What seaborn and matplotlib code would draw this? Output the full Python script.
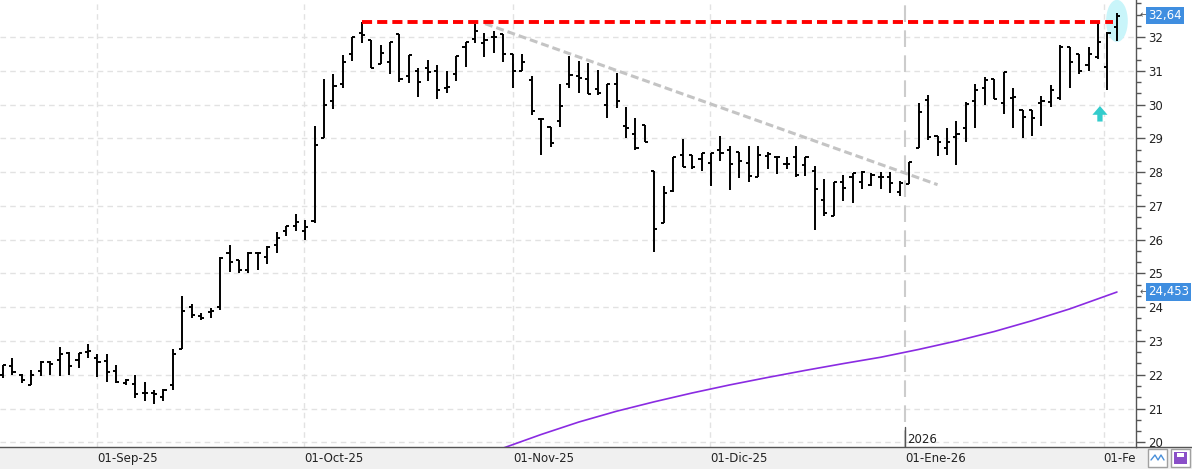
import numpy as np
import matplotlib
matplotlib.use("Agg")
import matplotlib.pyplot as plt
import matplotlib.transforms as mtransforms
from matplotlib.patches import Ellipse, Polygon, Rectangle
from matplotlib.lines import Line2D
import seaborn as sns

# daily OHLC bars, Aug-25 .. Feb-26
opens = [22.0, 22.27, 22.0, 21.7, 22.1, 22.38, 22.45, 22.65, 22.45, 22.68,
         22.5, 22.4, 22.1, 21.75, 21.72, 21.47, 21.45, 21.35, 21.7, 22.75,
         24.0, 23.73, 23.85, 24.0, 25.62, 25.4, 25.1, 25.6, 25.5, 25.85,
         26.25, 26.4, 26.27, 26.55, 29.02, 30.12, 30.62, 31.5, 32.12, 31.92,
         31.2, 31.25, 32.09, 30.86, 31.0, 31.08, 30.99, 30.5, 30.92, 31.7,
         31.94, 31.82, 32.0, 32.09, 31.5, 31.0, 30.74, 29.58, 29.33, 29.53,
         30.62, 30.86, 30.77, 30.47, 30.0, 30.62, 29.38, 29.13, 29.39, 28.04,
         26.5, 27.43, 28.5, 28.5, 28.4, 28.27, 28.67, 28.65, 28.6, 28.27,
         27.85, 28.49, 28.45, 28.24, 28.45, 28.22, 28.04, 27.18, 26.7, 27.72,
         27.85, 27.72, 27.62, 27.85, 27.85, 27.4, 27.64, 28.73, 30.14, 29.06,
         28.73, 29.04, 29.3, 30.11, 30.49, 30.76, 30.04, 30.21, 29.85, 29.85,
         30.04, 30.09, 30.19, 31.7, 31.51, 31.18, 31.41, 31.11, 32.3]
highs = [22.29, 22.5, 22.02, 22.15, 22.4, 22.4, 22.82, 22.68, 22.65, 22.9,
         22.6, 22.6, 22.3, 21.86, 22.0, 21.78, 21.55, 21.58, 22.75, 24.32,
         24.1, 23.83, 23.99, 25.5, 25.85, 25.4, 25.65, 25.63, 25.8, 26.22,
         26.42, 26.76, 26.59, 29.38, 30.77, 30.92, 31.48, 32.0, 32.45, 31.92,
         31.77, 31.87, 32.09, 31.48, 31.1, 31.32, 31.18, 31.0, 31.45, 31.87,
         32.38, 32.12, 32.17, 32.09, 31.5, 31.5, 30.86, 29.6, 29.33, 30.62,
         31.45, 31.29, 31.22, 31.04, 30.6, 30.94, 29.93, 29.6, 29.39, 28.04,
         27.58, 28.44, 28.99, 28.5, 28.57, 28.57, 29.06, 28.79, 28.6, 28.79,
         28.79, 28.59, 28.45, 28.45, 28.79, 28.45, 28.19, 27.79, 27.72, 27.92,
         27.97, 28.03, 27.97, 28.0, 28.0, 27.75, 28.31, 30.04, 30.29, 29.08,
         29.32, 29.52, 30.07, 30.61, 30.83, 30.76, 30.96, 30.49, 29.85, 29.85,
         30.26, 30.59, 31.77, 31.7, 31.51, 31.72, 32.41, 32.14, 32.71]
lows = [21.9, 22.0, 21.75, 21.7, 21.97, 22.0, 21.97, 22.0, 22.19, 22.5,
        21.94, 21.8, 21.75, 21.7, 21.32, 21.22, 21.13, 21.22, 21.55, 22.75,
        23.67, 23.63, 23.67, 23.92, 25.03, 25.0, 25.0, 25.1, 25.28, 25.62,
        26.1, 26.27, 26.0, 26.5, 29.02, 29.88, 30.48, 31.28, 31.82, 31.08,
        31.2, 30.9, 30.66, 30.64, 30.22, 30.69, 30.18, 30.35, 30.69, 31.13,
        31.82, 31.4, 31.53, 31.25, 30.49, 31.0, 29.68, 28.5, 28.75, 29.33,
        30.5, 30.35, 30.32, 30.29, 29.6, 29.9, 29.0, 28.65, 28.9, 25.64,
        26.5, 27.41, 28.15, 28.1, 28.04, 27.58, 28.32, 27.48, 27.84, 27.72,
        27.85, 28.1, 27.95, 28.09, 27.87, 27.89, 26.29, 26.71, 26.7, 27.15,
        27.1, 27.49, 27.6, 27.49, 27.37, 27.3, 27.64, 28.73, 28.96, 28.49,
        28.51, 28.2, 28.88, 29.3, 30.0, 30.16, 29.72, 29.3, 29.01, 29.06,
        29.38, 29.93, 30.14, 30.49, 30.9, 31.0, 31.36, 30.42, 31.88]
closes = [22.28, 22.08, 21.83, 22.0, 22.38, 22.33, 22.6, 22.26, 22.63, 22.7,
          22.38, 22.07, 21.8, 21.85, 21.42, 21.47, 21.43, 21.55, 22.6, 23.88,
          23.78, 23.67, 23.9, 25.45, 25.33, 25.1, 25.62, 25.62, 25.77, 26.05,
          26.4, 26.53, 26.37, 28.8, 29.98, 30.55, 31.26, 32.0, 32.07, 31.08,
          31.53, 31.87, 30.76, 31.48, 30.67, 30.97, 30.42, 30.52, 31.43, 31.87,
          32.19, 31.92, 32.0, 31.5, 31.01, 31.26, 29.82, 29.58, 28.87, 29.95,
          30.89, 30.79, 30.32, 30.35, 30.6, 30.12, 29.31, 28.72, 28.9, 26.32,
          27.37, 28.44, 28.16, 28.16, 28.57, 28.57, 28.57, 28.24, 28.32, 27.9,
          28.52, 28.55, 28.45, 28.24, 27.92, 28.45, 27.5, 26.8, 27.72, 27.53,
          27.97, 28.01, 27.92, 27.85, 27.67, 27.67, 28.29, 29.78, 29.04, 28.89,
          28.89, 29.13, 30.01, 30.44, 30.74, 30.16, 30.96, 30.24, 29.63, 29.6,
          30.12, 30.44, 31.7, 31.26, 31.0, 31.51, 31.87, 32.12, 32.64]

# 200-session moving average (purple)
ma_bar = [54, 58, 62, 66, 70, 74, 78, 82, 86, 90, 94, 98, 102, 106, 110, 114, 119]
ma_val = [19.83, 20.23, 20.6, 20.92, 21.2, 21.46, 21.7, 21.92, 22.13, 22.33,
          22.52, 22.75, 23.0, 23.28, 23.6, 23.95, 24.45]
ma_last = 24.453

# month ticks (position on the bar scale where each month begins)
month_pos = [11.0, 32.9, 55.0, 75.9, 96.6, 117.6]
month_labels = ["01-Sep-25", "01-Oct-25", "01-Nov-25", "01-Dic-25", "01-Ene-26", "01-Fe"]
year_pos = 96.6
year_label = "2026"

# drawn studies
resistance = 32.45
resistance_from, resistance_to = 39, 118.6
trend_start = (52.06, 32.4)
trend_end = (100.0, 27.63)
signal_bar, signal_tip = 117.2, 29.96

last_price = closes[-1]
W, H = 1192, 469

sns.set_style("white")
plt.rcParams["font.family"] = ["DejaVu Sans"]

fig = plt.figure(figsize=(W / 100, H / 100), dpi=100)
ax = fig.add_axes([0, 22 / H, 1136 / W, 447 / H])

idx = np.arange(1, len(closes) + 1)
ax.set_xlim(0.68, 121.02)
ax.set_ylim(19.86, 33.1)

# grid
ax.set_yticks(range(20, 33))
ax.set_yticks(np.arange(20, 33.2, 1 / 3), minor=True)
for v in range(20, 33):
    ax.axhline(v, color="#e2e2e2", lw=1, ls=(0, (4, 3)), zorder=0)
for p in month_pos:
    if p == year_pos:
        ax.axvline(p, color="#cccccc", lw=1.5, ls=(0, (8, 4)), zorder=0)
    else:
        ax.axvline(p, color="#e2e2e2", lw=1, ls=(0, (4, 3)), zorder=0)

# highlight of last bar
ax.add_patch(Ellipse((119, 32.48), 2.3, 1.25, fc="#c9f5fa", ec="none", zorder=1))

# moving average
sns.lineplot(x=ma_bar, y=ma_val, ax=ax, color="#8a2be2", lw=1.2, zorder=2)

# OHLC bars
ax.vlines(idx, lows, highs, color="black", lw=1.4, zorder=3)
ax.hlines(opens, idx - 0.33, idx, color="black", lw=1.4, zorder=3)
ax.hlines(closes, idx, idx + 0.33, color="black", lw=1.4, zorder=3)

# resistance and trend lines
ax.plot([resistance_from, resistance_to], [resistance, resistance], color="red",
        lw=2.8, ls=(0, (2.6, 1.3)), zorder=4)
ax.plot([trend_start[0], trend_end[0]], [trend_start[1], trend_end[1]], color="#c4c4c4",
        lw=2.2, ls=(0, (2.6, 1.3)), zorder=2)

# cyan buy arrow
hw, sw = 0.8, 0.28
ax.add_patch(Polygon([(signal_bar - hw, signal_tip - 0.26), (signal_bar, signal_tip),
                      (signal_bar + hw, signal_tip - 0.26), (signal_bar + sw, signal_tip - 0.26),
                      (signal_bar + sw, signal_tip - 0.46), (signal_bar - sw, signal_tip - 0.46),
                      (signal_bar - sw, signal_tip - 0.26)], closed=True,
                     fc="#33cccc", ec="none", zorder=4))

# axes styling
for s in ["left", "top"]:
    ax.spines[s].set_visible(False)
for s in ["right", "bottom"]:
    ax.spines[s].set_color("#555555")
    ax.spines[s].set_linewidth(1)
ax.yaxis.tick_right()
ax.tick_params(axis="y", which="major", direction="out", length=6.5, width=1,
               color="#555555", labelsize=8.5, pad=2, labelcolor="#222222")
ax.tick_params(axis="y", which="minor", direction="out", length=3.6, width=1, color="#555555")
ax.set_xticks(month_pos)
ax.set_xticklabels(month_labels)
ax.tick_params(axis="x", direction="out", length=6.5, width=1, color="#555555",
               labelsize=8.5, pad=-3.2, labelcolor="#222222")
for lab in ax.get_xticklabels():
    lab.set_horizontalalignment("left")
ax.set_xlabel("")
ax.set_ylabel("")

# year marker
ax.plot([year_pos, year_pos], [19.86, 20.45], color="#555555", lw=1, zorder=3)
ax.text(year_pos + 0.15, 19.9, year_label, fontsize=8.5, color="#222222", va="bottom", ha="left")

# last value boxes on the price scale
trans = mtransforms.blended_transform_factory(ax.transAxes, ax.transData)
for val, txt in [(last_price, f"{last_price:.2f}".replace(".", ",")),
                 (ma_last, f"{ma_last:.3f}".replace(".", ","))]:
    ax.text(1.0035, val, "←", transform=trans, fontsize=7, color="#555555",
            va="center", ha="left", clip_on=False)
    ax.text(1.0105, val, txt, transform=trans, fontsize=8.5, color="white", va="center",
            ha="left", clip_on=False,
            bbox=dict(boxstyle="square,pad=0.18", fc="#3f8ee0", ec="none"))

# bottom strip and buttons
fig.add_artist(Rectangle((0, 0), 1, 22 / H, transform=fig.transFigure,
                         fc="#f0f0f0", ec="none", zorder=-5))
fig.add_artist(Line2D([1136 / W, 1], [22 / H, 22 / H], transform=fig.transFigure,
                      color="#555555", lw=1))
fig.add_artist(Rectangle((1148 / W, 2 / H), 19 / W, 18 / H, transform=fig.transFigure,
                         fc="white", ec="#a0a0a0", lw=1))
fig.add_artist(Line2D(np.array([1151, 1155, 1158, 1161, 1164]) / W,
                      np.array([9, 14, 9, 14, 9]) / H, transform=fig.transFigure,
                      color="#4a90d9", lw=1))
fig.add_artist(Rectangle((1171 / W, 2 / H), 19 / W, 18 / H, transform=fig.transFigure,
                         fc="white", ec="#a0a0a0", lw=1))
fig.add_artist(Rectangle((1174 / W, 5 / H), 13 / W, 12 / H, transform=fig.transFigure,
                         fc="#8a4fc8", ec="none"))
fig.add_artist(Rectangle((1177 / W, 12 / H), 7 / W, 4 / H, transform=fig.transFigure,
                         fc="white", ec="none"))

fig.savefig("out.png", dpi=100)
